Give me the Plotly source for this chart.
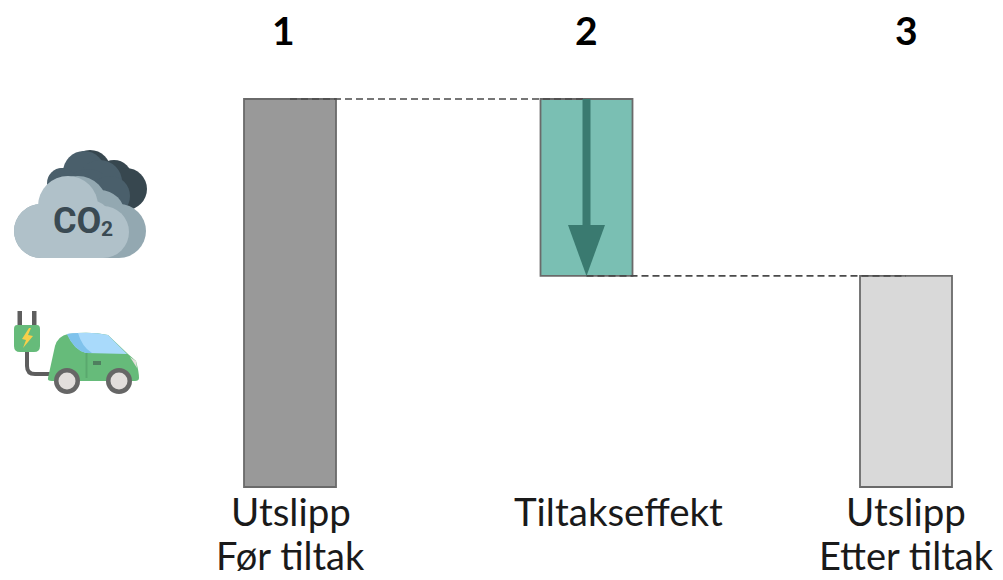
import plotly.graph_objects as go

# ---- data ----
step_numbers = ["1", "2", "3"]
bar_tops = [100, 100, 54.4]
bar_bases = [0, 54.4, 0]
bar_colors = ["#999999", "#7ABFB3", "#D9D9D9"]
label_first = ["Utslipp", "Tiltakseffekt", "Utslipp"]
label_second = ["Før tiltak", "", "Etter tiltak"]

# ---- layout constants (pixels on the 1003x580 page) ----
W, H = 1003, 580
bar_centers = [290, 586.5, 906]
bar_width = 92
number_x = [283, 586, 906]
label_x = [290.5, 618, 906]
Y0_PX, PX_PER_UNIT = 487, 3.88
y_range = [(Y0_PX - H) / PX_PER_UNIT, Y0_PX / PX_PER_UNIT]

FONT = "Lato, Carlito, sans-serif"
fig = go.Figure()

fig.add_trace(go.Bar(
    x=bar_centers, y=[t - b for t, b in zip(bar_tops, bar_bases)], base=bar_bases,
    width=bar_width,
    marker=dict(color=bar_colors, line=dict(color="#6A6A6A", width=1.8)),
    showlegend=False, hoverinfo="skip"))

# connectors
for i, lvl in ((0, bar_tops[0]), (1, bar_bases[1])):
    fig.add_trace(go.Scatter(
        x=[bar_centers[i], bar_centers[i + 1]], y=[lvl, lvl], mode="lines",
        line=dict(color="#4A4A4A", width=1.7, dash="7px,4px"),
        showlegend=False, hoverinfo="skip"))

shapes = []
def py(p):
    return 1 - p / H
def circ(cx, cy, r, c):
    shapes.append(dict(type="circle", xref="x", yref="paper", x0=cx - r, x1=cx + r,
                       y0=py(cy + r), y1=py(cy - r), fillcolor=c, line_width=0, layer="above"))
def poly(d, c):
    parts = []
    for tok in d:
        parts.append(tok if isinstance(tok, str) else f"{tok[0]},{py(tok[1]):.5f}")
    shapes.append(dict(type="path", xref="x", yref="paper", path=" ".join(parts),
                       fillcolor=c, line_width=0, layer="above"))
def rect(x0, y0, x1, y1, c):
    poly(["M", (x0, y0), "L", (x1, y0), "L", (x1, y1), "L", (x0, y1), "Z"], c)
def stroke(d, c, w):
    parts = []
    for tok in d:
        parts.append(tok if isinstance(tok, str) else f"{tok[0]},{py(tok[1]):.5f}")
    shapes.append(dict(type="path", xref="x", yref="paper", path=" ".join(parts),
                       fillcolor="rgba(0,0,0,0)", line=dict(color=c, width=w), layer="above"))

# arrow inside the effect bar (data coordinates)
ax = bar_centers[1]
shaft_end = (Y0_PX - 225) / PX_PER_UNIT
shapes.append(dict(type="rect", xref="x", yref="y", x0=ax - 4, x1=ax + 4, y0=shaft_end, y1=bar_tops[1],
                   fillcolor="#3A7A70", line_width=0, layer="above"))
shapes.append(dict(type="path", xref="x", yref="y",
                   path=f"M {ax-18.5},{shaft_end} L {ax+18.5},{shaft_end} L {ax},{bar_bases[1]} Z",
                   fillcolor="#3A7A70", line_width=0, layer="above"))

# CO2 cloud icon — back cloud
DK1, DK2 = "#37474F", "#4A5F6B"
for c in [(90, 171, 21), (114, 178, 18), (126, 189, 21), (64, 183, 15), (100, 195, 25)]:
    circ(*c, DK1)
for c in [(84, 172, 21), (100, 182, 22), (62, 183, 15), (88, 195, 26), (110, 196, 20)]:
    circ(*c, DK2)
# front cloud, shaded layer
SH, LT = "#93A8B1", "#B0C1C9"
for c in [(41, 231, 27), (119, 231, 27), (78, 205, 29), (100, 215, 25)]:
    circ(*c, SH)
rect(41, 215, 119, 258, SH)
# front cloud, light layer
for c in [(41, 231, 27), (103, 232, 26), (68, 206, 30), (90, 222, 22)]:
    circ(*c, LT)
rect(41, 215, 103, 258, LT)

# electric car icon
GR, GR2 = "#66BB7A", "#5AA86E"
stroke(["M", (27, 350), "L", (27, 366), "Q", (27, 374), (35, 374), "L", (50, 374)], "#5E5E5E", 4)
rect(17.5, 311, 22, 327, "#5E5E5E")
rect(32, 311, 36.5, 327, "#5E5E5E")
poly(["M", (17, 325), "L", (37, 325), "Q", (40, 325), (40, 329), "L", (40, 346), "Q", (40, 352), (34, 352),
      "L", (20, 352), "Q", (14, 352), (14, 346), "L", (14, 329), "Q", (14, 325), (17, 325), "Z"], GR)
poly(["M", (29, 328), "L", (22, 339), "L", (26, 340), "L", (23, 348), "L", (33, 336), "L", (28, 335), "L", (31, 328), "Z"], "#F8CF4A")
poly(["M", (48, 378), "L", (55, 346), "Q", (58, 336), (68, 334), "Q", (90, 331), (108, 335),
      "L", (128, 354), "L", (136, 361), "Q", (139, 372), (139, 378), "Q", (139, 381), (135, 381),
      "L", (52, 381), "Q", (47, 381), (48, 378), "Z"], GR)
poly(["M", (67, 334), "Q", (90, 331), (108, 335), "L", (127, 354), "L", (86, 353), "Q", (74, 350), (67, 334), "Z"], "#A9DAFB")
poly(["M", (67, 334), "Q", (74, 333), (78, 333), "Q", (82, 347), (92, 353), "L", (86, 353), "Q", (74, 350), (67, 334), "Z"], "#7FC2EC")
rect(85.5, 353, 87.5, 378, GR2)
rect(93, 361, 101, 365, "#4F7F5F")
poly(["M", (130, 357), "L", (136, 361), "L", (137, 368), "Z"], "#E4E0DC")
for cx in (67, 119):
    circ(cx, 381, 13, "#666666")
    circ(cx, 381, 8.5, "#E2DEDC")

# text annotations
ann = []
for n, x in zip(step_numbers, number_x):
    ann.append(dict(x=x, y=py(29.5), xref="x", yref="paper", text=f"<b>{n}</b>", showarrow=False,
                    font=dict(family=FONT, size=39, color="#000000"), xanchor="center", yanchor="middle"))
for t, x in zip(label_first, label_x):
    ann.append(dict(x=x, y=py(511), xref="x", yref="paper", text=t, showarrow=False,
                    font=dict(family=FONT, size=38.5, color="#1a1a1a"), xanchor="center", yanchor="middle"))
for t, x in zip(label_second, label_x):
    if t:
        ann.append(dict(x=x, y=0, xref="x", yref="paper", text=t, showarrow=False,
                        font=dict(family=FONT, size=38, color="#1a1a1a"), xanchor="center", yanchor="bottom"))
ann.append(dict(x=51, y=py(221), xref="x", yref="paper", text="<b>CO</b>", showarrow=False,
                font=dict(family="Roboto, sans-serif", size=36, color="#3A4A53"),
                xanchor="left", yanchor="middle"))
ann.append(dict(x=99, y=py(229), xref="x", yref="paper", text="<b>2</b>", showarrow=False,
                font=dict(family="Roboto, sans-serif", size=21, color="#3A4A53"),
                xanchor="left", yanchor="middle"))

fig.update_layout(
    width=W, height=H, margin=dict(l=0, r=0, t=0, b=0),
    paper_bgcolor="white", plot_bgcolor="white",
    xaxis=dict(range=[0, W], visible=False, fixedrange=True),
    yaxis=dict(range=y_range, visible=False, fixedrange=True),
    shapes=shapes, annotations=ann, showlegend=False)

fig.write_html("out.html", config={"displayModeBar": False},
               post_script="document.body.style.margin='0';document.body.style.overflow='hidden';")
